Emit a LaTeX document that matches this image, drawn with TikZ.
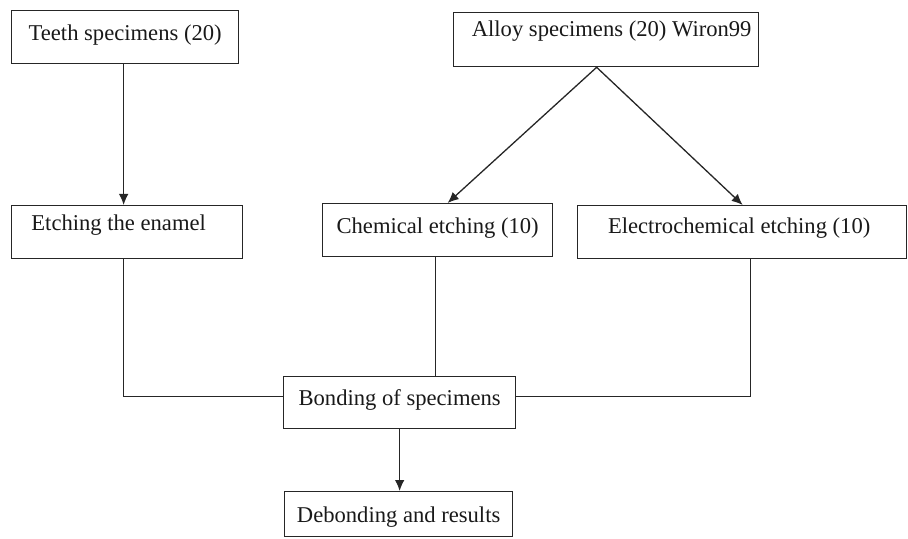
\documentclass[tikz,border=0pt]{standalone}
\usepackage{fontspec}
\setmainfont{Liberation Serif}
\usetikzlibrary{arrows.meta,calc}
\begin{document}
\begin{tikzpicture}[x=0.5pt,y=-0.5pt,
  bx/.style 2 args={draw=black!85, line width=0.65pt, inner xsep=0pt, inner ysep=0pt,
    anchor=north west, text height=#1, text depth=#2,
    font=\fontsize{11.3pt}{13pt}\selectfont, text=black!90},
  ln/.style={draw=black!85, line width=0.65pt},
  arr/.style={ln, -{Latex[length=5.5pt,width=4.8pt]}}]
\useasboundingbox (0,0) rectangle (908,539);
\node[bx={15pt}{11.5pt}, minimum width=113.5pt] (teeth) at (11,10) {Teeth specimens (20)};
\node[bx={12.5pt}{14pt}, minimum width=115.5pt] (enamel) at (11,205) {Etching the enamel\hspace*{8.5pt}};
\node[bx={12pt}{15pt}, minimum width=152.5pt] (alloy) at (453,12) {\hspace*{5.5pt}Alloy specimens (20) Wiron99};
\node[bx={15pt}{11.5pt}, minimum width=115pt] (chemical) at (322,203) {Chemical etching (10)};
\node[bx={14pt}{12.5pt}, minimum width=164.5pt] (electro) at (577,205) {Electrochemical etching (10)\hspace*{3pt}};
\node[bx={14.5pt}{11.5pt}, minimum width=116pt] (bonding) at (283,376) {Bonding of specimens};
\node[bx={15.5pt}{7pt}, minimum width=114pt] (debonding) at (284,491) {Debonding and results};
\coordinate (apex) at ([xshift=-4.75pt]alloy.south);
\draw[arr] ([xshift=-0.75pt]teeth.south) -- ([xshift=-0.75pt]teeth.south |- enamel.north);
\draw[arr] (apex) -- ([xshift=5pt]chemical.north);
\draw[arr] (apex) -- ([xshift=0.25pt]electro.north);
\draw[ln] ([xshift=-1.75pt]enamel.south) |- ([yshift=3pt]bonding.west);
\draw[ln] ([xshift=-1pt]chemical.south) -- ([xshift=-1pt]chemical.south |- bonding.north);
\draw[ln] ([xshift=4.25pt]electro.south) |- ([yshift=3pt]bonding.east);
\draw[arr] (bonding.south) -- (bonding.south |- debonding.north);
\end{tikzpicture}
\end{document}
